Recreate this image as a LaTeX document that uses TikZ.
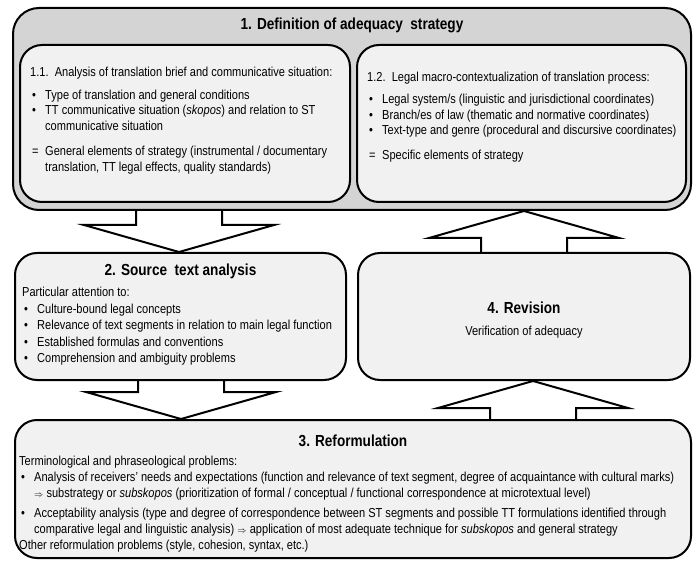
\documentclass[tikz,border=0pt]{standalone}
\usepackage{fontspec}
\setmainfont{Liberation Sans}[FakeStretch=0.85]
\usetikzlibrary{calc}
\definecolor{outergray}{RGB}{212,212,212}
\definecolor{innergray}{RGB}{241,241,241}
\newcommand{\lbul}{\hspace*{2pt}\makebox[13pt][l]{\textbullet}}
\newcommand{\lequ}{\hspace*{2pt}\makebox[13pt][l]{=}}
\newcommand{\lind}{\hspace*{15pt}}
\newcommand{\arrowdown}[3]{\draw[blockarr] let \p1=(#2.south), \p2=(#3.north) in (#1-43,\y1) -- (#1-43,\y2+27pt) -- (#1-95,\y2+27pt) -- (#1,\y2) -- (#1+95,\y2+27pt) -- (#1+43,\y2+27pt) -- (#1+43,\y1);}
\newcommand{\arrowup}[3]{\draw[blockarr] let \p1=(#2.north), \p2=(#3.south) in (#1-43,\y1) -- (#1-43,\y2-27pt) -- (#1-95,\y2-27pt) -- (#1,\y2) -- (#1+95,\y2-27pt) -- (#1+43,\y2-27pt) -- (#1+43,\y1);}

\begin{document}
\begin{tikzpicture}[x=1pt,y=-1pt,
  outerbox/.style={draw, line width=2pt, rounded corners=26pt, fill=outergray, inner sep=0},
  box/.style={draw, line width=2pt, rounded corners=22pt, fill=innergray, inner sep=0},
  blockarr/.style={line width=2pt, line join=miter},
  titletxt/.style={font=\fontsize{16}{19}\selectfont\bfseries, inner sep=0},
  bodytext/.style={font=\fontsize{13}{15.5}\selectfont, align=left, anchor=north west, inner sep=0}]
\useasboundingbox (0,0) rectangle (693,561);
\node[outerbox, minimum width=678, minimum height=202] (def) at (352,109) {};
\node[box, minimum width=330, minimum height=157] (brief) at (185,123.5) {};
\node[box, minimum width=329, minimum height=157] (macro) at (521.5,123.5) {};
\node[box, minimum width=331, minimum height=127] (src) at (180.5,316.5) {};
\node[box, minimum width=332, minimum height=127] (rev) at (524,316.5) {};
\node[box, minimum width=676, minimum height=138] (ref) at (353,489) {};
\arrowdown{179}{def}{src}
\arrowup{524}{rev}{def}
\arrowdown{181}{src}{ref}
\arrowup{533}{ref}{rev}
\node[titletxt] (deftitle) at (352,25) {1. Definition of adequacy\ \ strategy};
\node[bodytext] (brieftxt) at (30,67) {1.1.\ \ Analysis of translation brief and communicative situation:\\[7pt]
\lbul Type of translation and general conditions\\
\lbul TT communicative situation (\textit{skopos}) and relation to ST\\
\lind communicative situation\\[10pt]
\lequ General elements of strategy (instrumental / documentary\\
\lind translation, TT legal effects, quality standards)};
\node[bodytext] (macrotxt) at (367,72) {1.2.\ \ Legal macro-contextualization of translation process:\\[6.5pt]
\lbul Legal system/s (linguistic and jurisdictional coordinates)\\
\lbul Branch/es of law (thematic and normative coordinates)\\
\lbul Text-type and genre (procedural and discursive coordinates)\\[9.5pt]
\lequ Specific elements of strategy};
\node[titletxt] (srctitle) at (180.5,271) {2. Source\ \ text analysis};
\node[bodytext, font=\fontsize{13}{16.5}\selectfont] (srctxt) at (22,287) {Particular attention to:\\
\lbul Culture-bound legal concepts\\
\lbul Relevance of text segments in relation to main legal function\\
\lbul Established formulas and conventions\\
\lbul Comprehension and ambiguity problems};
\node[titletxt] (revtitle) at (524,308) {4. Revision};
\node[bodytext, anchor=center] (revtxt) at (524,332) {Verification of adequacy};
\node[titletxt] (reftitle) at (353,441) {3. Reformulation};
\node[bodytext, font=\fontsize{13}{16}\selectfont] (reftxt) at (19,456) {Terminological and phraseological problems:\\
\lbul Analysis of receivers' needs and expectations (function and relevance of text segment, degree of acquaintance with cultural marks)\\
\lind {\small$\Rightarrow$} substrategy or \textit{subskopos} (prioritization of formal / conceptual / functional correspondence at microtextual level)\\[4pt]
\lbul Acceptability analysis (type and degree of correspondence between ST segments and possible TT formulations identified through\\
\lind comparative legal and linguistic analysis) {\small$\Rightarrow$} application of most adequate technique for \textit{subskopos} and general strategy\\
Other reformulation problems (style, cohesion, syntax, etc.)};
\end{tikzpicture}
\end{document}
